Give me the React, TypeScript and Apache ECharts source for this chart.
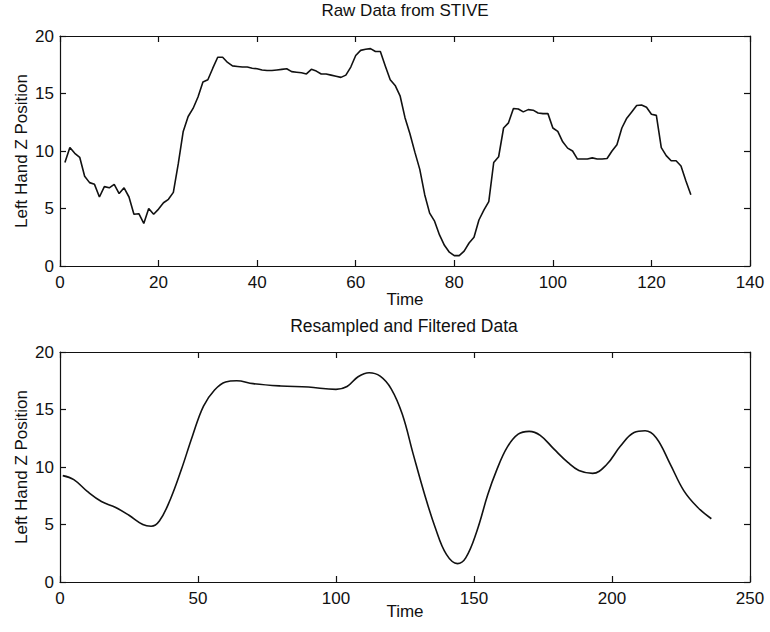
import React, { useEffect, useRef } from "react";
import * as echarts from "echarts";

// ---- Top plot: raw data (time 1..128) ----
const rawValues = [
  9.0, 10.3, 9.8, 9.45, 7.8, 7.25, 7.1, 6.0, 6.9, 6.8,
  7.1, 6.3, 6.8, 6.0, 4.5, 4.55, 3.7, 5.0, 4.5, 4.95,
  5.5, 5.8, 6.4, 8.9, 11.7, 13.0, 13.7, 14.7, 16.0, 16.2,
  17.2, 18.15, 18.15, 17.7, 17.4, 17.35, 17.3, 17.3, 17.2, 17.15,
  17.05, 17.0, 17.0, 17.05, 17.1, 17.15, 16.9, 16.85, 16.8, 16.7,
  17.1, 16.95, 16.7, 16.7, 16.6, 16.5, 16.4, 16.6, 17.3, 18.3,
  18.75, 18.85, 18.9, 18.65, 18.65, 17.4, 16.2, 15.7, 14.8, 12.9,
  11.5, 9.9, 8.4, 6.2, 4.6, 3.9, 2.7, 1.8, 1.2, 0.9,
  0.9, 1.3, 2.0, 2.5, 4.0, 4.85, 5.6, 9.0, 9.5, 12.0,
  12.45, 13.7, 13.65, 13.4, 13.6, 13.55, 13.3, 13.25, 13.25, 12.0,
  11.7, 10.8, 10.25, 10.0, 9.3, 9.3, 9.3, 9.4, 9.3, 9.3,
  9.35, 10.0, 10.55, 12.0, 12.85, 13.4, 13.95, 14.0, 13.8, 13.2,
  13.1, 10.3, 9.6, 9.15, 9.15, 8.7, 7.4, 6.2,
];
const rawTimes = rawValues.map((_, i) => i + 1);

// ---- Bottom plot: resampled & filtered ----
const filtTimes = [
  1, 5, 10, 15, 20, 25, 30, 33, 36, 40, 44, 48, 52, 56, 60, 64, 70, 80, 90, 100,
  104, 108, 112, 116, 120, 124, 128, 132, 136, 140, 144, 147, 151, 155, 158, 162,
  166, 170, 174, 179, 184, 188, 193, 198, 203, 208, 212, 216, 221, 226, 231, 236,
];
const filtValues = [
  9.25, 8.9, 7.85, 7.0, 6.5, 5.8, 5.0, 4.85, 5.3, 7.2, 9.8, 12.7, 15.3, 16.7, 17.4, 17.5, 17.25, 17.05, 16.95, 16.75,
  17.0, 17.85, 18.2, 17.9, 16.8, 14.6, 11.1, 7.7, 4.7, 2.4, 1.6, 2.1, 4.4, 7.6, 9.6, 11.7,
  12.85, 13.1, 12.75, 11.55, 10.4, 9.7, 9.45, 10.2, 11.8, 13.0, 13.15, 12.55, 10.3, 7.95, 6.5, 5.5,
];

const topXTicks = { min: 0, max: 140, interval: 20 };
const bottomXTicks = { min: 0, max: 250, interval: 50 };
const yTicks = { min: 0, max: 20, interval: 5 };

const FONT = "Liberation Sans, Arial, Helvetica, sans-serif";
const INK = "#111";

function xAxisPair(gridIndex: number, t: { min: number; max: number; interval: number }, nameGap: number) {
  const common = {
    type: "value" as const,
    gridIndex,
    min: t.min,
    max: t.max,
    interval: t.interval,
    splitLine: { show: false },
    axisLine: { show: true, onZero: false, lineStyle: { color: INK, width: 1.2 } },
    axisTick: { show: true, inside: true, length: 6, lineStyle: { color: INK, width: 1.2 } },
  };
  return [
    {
      ...common,
      position: "bottom" as const,
      name: "Time",
      nameLocation: "middle" as const,
      nameGap,
      nameMoveOverlap: false,
      nameTextStyle: { fontFamily: FONT, fontSize: 17, color: INK },
      axisLabel: { fontFamily: FONT, fontSize: 17, color: INK, margin: 8, showMinLabel: true, showMaxLabel: true },
    },
    { ...common, position: "top" as const, axisLabel: { show: false } },
  ];
}

function yAxisPair(gridIndex: number) {
  const common = {
    type: "value" as const,
    gridIndex,
    min: yTicks.min,
    max: yTicks.max,
    interval: yTicks.interval,
    splitLine: { show: false },
    axisLine: { show: true, onZero: false, lineStyle: { color: INK, width: 1.2 } },
    axisTick: { show: true, inside: true, length: 6, lineStyle: { color: INK, width: 1.2 } },
  };
  return [
    {
      ...common,
      position: "left" as const,
      name: "Left Hand Z Position",
      nameLocation: "middle" as const,
      nameGap: 30,
      nameMoveOverlap: false,
      nameTextStyle: { fontFamily: FONT, fontSize: 17, color: INK },
      axisLabel: { fontFamily: FONT, fontSize: 17, color: INK, margin: 6 },
    },
    { ...common, position: "right" as const, axisLabel: { show: false } },
  ];
}

export default function App() {
  const ref = useRef<HTMLDivElement>(null);
  useEffect(() => {
    if (!ref.current) return;
    const chart = echarts.init(ref.current, undefined, { renderer: "svg" });
    const option = {
      animation: false,
      backgroundColor: "#fff",
      title: [
        {
          text: "Raw Data from STIVE",
          left: 405,
          top: 2,
          padding: 0,
          textAlign: "center",
          textStyle: { fontFamily: FONT, fontSize: 17, fontWeight: "normal", color: INK },
        },
        {
          text: "Resampled and Filtered Data",
          left: 404,
          top: 317,
          padding: 0,
          textAlign: "center",
          textStyle: { fontFamily: FONT, fontSize: 17.5, fontWeight: "normal", color: INK },
        },
      ],
      grid: [
        { left: 60, top: 36, width: 690, height: 230 },
        { left: 60, top: 352, width: 690, height: 230 },
      ],
      xAxis: [...xAxisPair(0, topXTicks, 25), ...xAxisPair(1, bottomXTicks, 21)],
      yAxis: [...yAxisPair(0), ...yAxisPair(1)],
      series: [
        {
          type: "line",
          xAxisIndex: 0,
          yAxisIndex: 0,
          data: rawTimes.map((t, i) => [t, rawValues[i]]),
          showSymbol: false,
          lineStyle: { color: INK, width: 1.6 },
        },
        {
          type: "line",
          xAxisIndex: 2,
          yAxisIndex: 2,
          data: filtTimes.map((t, i) => [t, filtValues[i]]),
          showSymbol: false,
          smooth: 0.4,
          lineStyle: { color: INK, width: 1.6 },
        },
      ],
    };
    chart.setOption(option as any);
    return () => chart.dispose();
  }, []);
  return (
    <div
      ref={ref}
      style={{ position: "fixed", left: 0, top: 0, width: 770, height: 632, background: "#fff" }}
    />
  );
}
